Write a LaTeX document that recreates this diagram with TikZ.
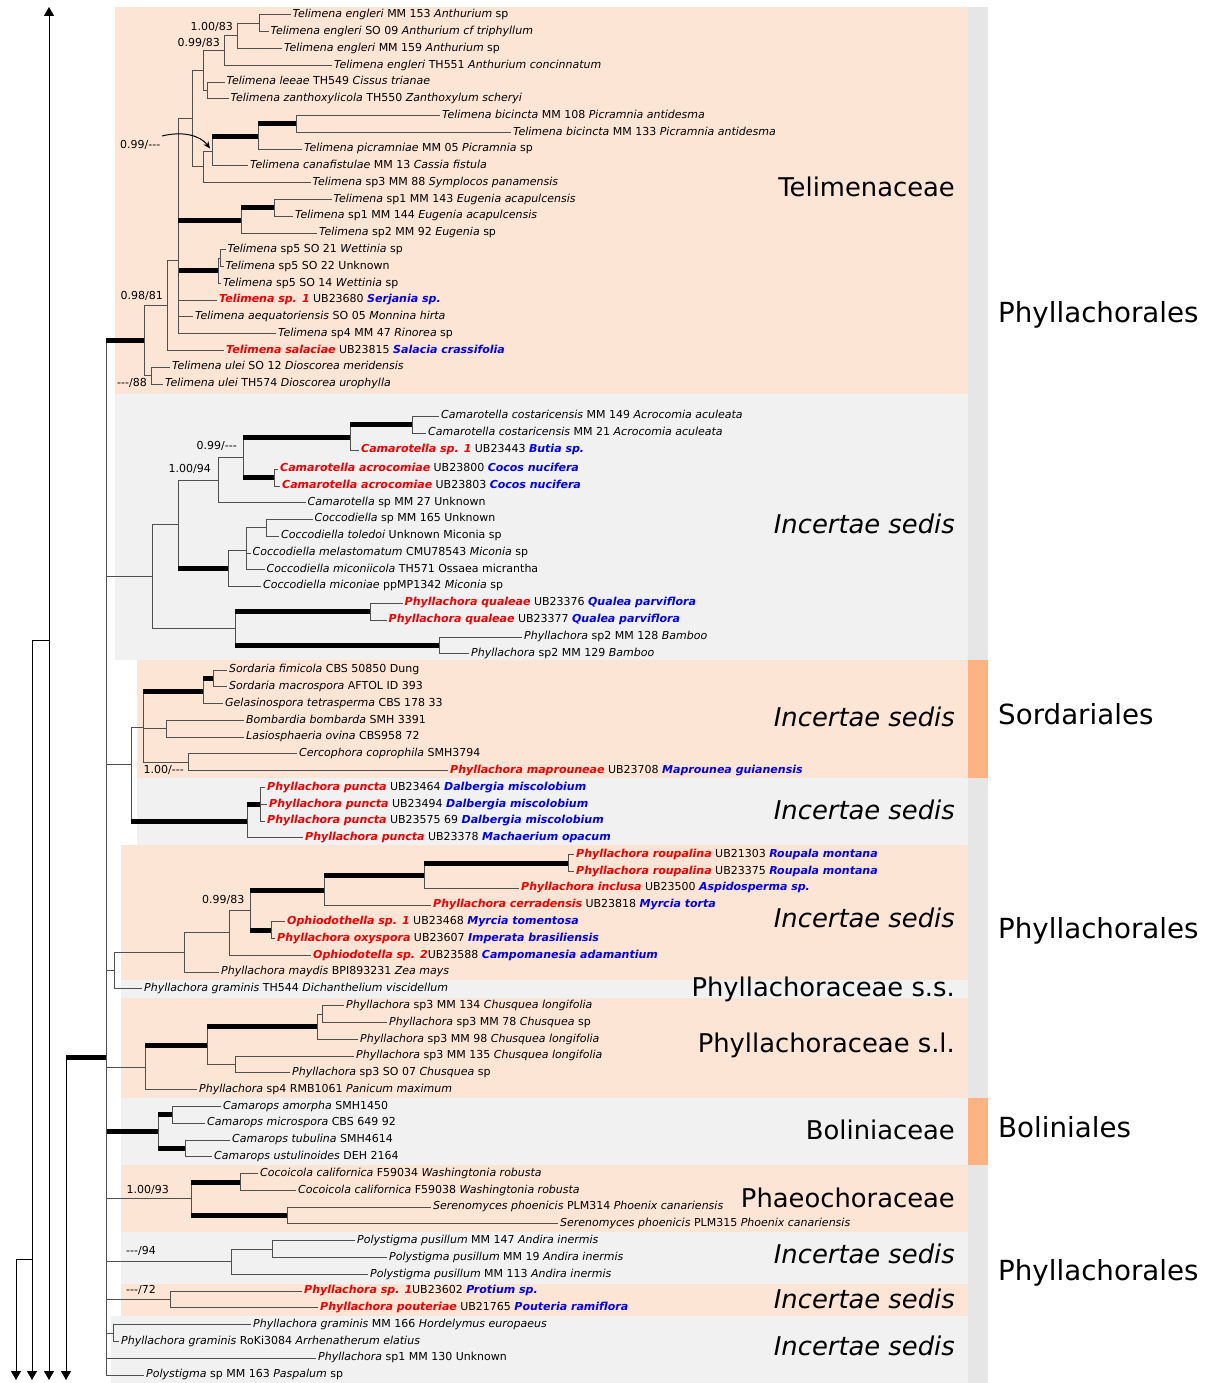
\documentclass[tikz,border=0pt]{standalone}
\usepackage{fontspec}
\setmainfont{DejaVu Sans}
\usetikzlibrary{arrows.meta}
\definecolor{salm}{HTML}{FDE5D5}
\definecolor{grbox}{HTML}{F1F1F1}
\definecolor{stripc}{HTML}{E6E6E6}
\definecolor{orng}{HTML}{FFB380}
\definecolor{nred}{HTML}{F00000}
\definecolor{nblue}{HTML}{0000F0}
\definecolor{brc}{HTML}{505050}
\newcommand{\redsp}[1]{\textcolor{nred}{\bfseries\itshape #1}}
\newcommand{\bluhost}[1]{\textcolor{nblue}{\bfseries\itshape #1}}
\newcommand{\brr}[2]{\draw[br] (#1) |- (#2);}
\newcommand{\tbr}[2]{\draw[br] (#1) |- (#2); \draw[tk] (#1 |- #2) -- (#2);}
\begin{document}
\begin{tikzpicture}[x=1pt,y=-1pt,
  br/.style={draw=brc,line width=1pt},
  tk/.style={draw=black,line width=5pt},
  leaf/.style={anchor=west,inner xsep=2pt,inner ysep=0pt,font=\fontsize{11}{13}\selectfont,text height=8pt,text depth=2.5pt},
  sup/.style={inner sep=0pt,font=\fontsize{11}{13}\selectfont,text height=8pt,text depth=2.5pt},
  fam/.style={anchor=east,inner sep=0pt,font=\fontsize{25.8}{30}\selectfont,text height=18.8pt,text depth=0pt},
  ord/.style={anchor=west,inner sep=0pt,font=\fontsize{27.7}{32}\selectfont,text height=20.2pt,text depth=0pt},
  og/.style={draw=black,line width=1pt,-{Triangle[width=10pt,length=9pt]}},
  ogl/.style={draw=black,line width=1pt}]
\useasboundingbox (0,0) rectangle (1213,1383);
\fill[white] (0,0) rectangle (1213,1383);
% backgrounds
\fill[salm] (115,7) rectangle (968,394);
\fill[grbox] (115,394) rectangle (968,660);
\fill[salm] (137,660) rectangle (968,778);
\fill[grbox] (137,778) rectangle (968,845);
\fill[salm] (121,845) rectangle (968,980);
\fill[grbox] (121,980) rectangle (968,998);
\fill[salm] (121,998) rectangle (968,1098);
\fill[grbox] (121,1098) rectangle (968,1165);
\fill[salm] (121,1165) rectangle (968,1232);
\fill[grbox] (121,1232) rectangle (968,1284);
\fill[salm] (121,1284) rectangle (968,1316);
\fill[grbox] (111,1316) rectangle (968,1383);
\fill[stripc] (968,7) rectangle (988,1383);
\fill[orng] (968,660) rectangle (988,778);
\fill[orng] (968,1098) rectangle (988,1165);

% ---------- leaves ----------
\node[leaf] (l1) at (290.5,15) {\textit{Telimena engleri} MM 153 \textit{Anthurium} sp};
\node[leaf] (l2) at (268.5,31.8) {\textit{Telimena engleri} SO 09 \textit{Anthurium cf triphyllum}};
\node[leaf] (l3) at (282,48.5) {\textit{Telimena engleri} MM 159 \textit{Anthurium} sp};
\node[leaf] (l4) at (332,65.3) {\textit{Telimena engleri} TH551 \textit{Anthurium concinnatum}};
\node[leaf] (l5) at (224.5,82.1) {\textit{Telimena leeae} TH549 \textit{Cissus trianae}};
\node[leaf] (l6) at (228.5,98.9) {\textit{Telimena zanthoxylicola} TH550 \textit{Zanthoxylum scheryi}};
\node[leaf] (l7) at (440,115.6) {\textit{Telimena bicincta} MM 108 \textit{Picramnia antidesma}};
\node[leaf] (l8) at (511,132.4) {\textit{Telimena bicincta} MM 133 \textit{Picramnia antidesma}};
\node[leaf] (l9) at (302,149.2) {\textit{Telimena picramniae} MM 05 \textit{Picramnia} sp};
\node[leaf] (l10) at (248,165.9) {\textit{Telimena canafistulae} MM 13 \textit{Cassia fistula}};
\node[leaf] (l11) at (310.5,182.7) {\textit{Telimena} sp3 MM 88 \textit{Symplocos panamensis}};
\node[leaf] (l12) at (331.5,199.5) {\textit{Telimena} sp1 MM 143 \textit{Eugenia acapulcensis}};
\node[leaf] (l13) at (293,216.2) {\textit{Telimena} sp1 MM 144 \textit{Eugenia acapulcensis}};
\node[leaf] (l14) at (317,233) {\textit{Telimena} sp2 MM 92 \textit{Eugenia} sp};
\node[leaf] (l15) at (225.5,249.8) {\textit{Telimena} sp5 SO 21 \textit{Wettinia} sp};
\node[leaf] (l16) at (223.5,266.6) {\textit{Telimena} sp5 SO 22 Unknown};
\node[leaf] (l17) at (221,283.3) {\textit{Telimena} sp5 SO 14 \textit{Wettinia} sp};
\node[leaf] (l18) at (217,300.1) {\redsp{Telimena sp. 1} UB23680 \bluhost{Serjania sp.}};
\node[leaf] (l19) at (193,316.9) {\textit{Telimena aequatoriensis} SO 05 \textit{Monnina hirta}};
\node[leaf] (l20) at (276,333.7) {\textit{Telimena} sp4 MM 47 \textit{Rinorea} sp};
\node[leaf] (l21) at (224,350.4) {\redsp{Telimena salaciae} UB23815 \bluhost{Salacia crassifolia}};
\node[leaf] (l22) at (170,367.2) {\textit{Telimena ulei} SO 12 \textit{Dioscorea meridensis}};
\node[leaf] (l23) at (163,384) {\textit{Telimena ulei} TH574 \textit{Dioscorea urophylla}};
\node[leaf] (l24) at (439,416) {\textit{Camarotella costaricensis} MM 149 \textit{Acrocomia aculeata}};
\node[leaf] (l25) at (426,433) {\textit{Camarotella costaricensis} MM 21 \textit{Acrocomia aculeata}};
\node[leaf] (l26) at (359,450) {\redsp{Camarotella sp. 1} UB23443 \bluhost{Butia sp.}};
\node[leaf] (l27) at (278,469) {\redsp{Camarotella acrocomiae} UB23800 \bluhost{Cocos nucifera}};
\node[leaf] (l28) at (280,486) {\redsp{Camarotella acrocomiae} UB23803 \bluhost{Cocos nucifera}};
\node[leaf] (l29) at (305.5,502.5) {\textit{Camarotella} sp MM 27 Unknown};
\node[leaf] (l30) at (312.5,519) {\textit{Coccodiella} sp MM 165 Unknown};
\node[leaf] (l31) at (279,536) {\textit{Coccodiella toledoi} Unknown Miconia sp};
\node[leaf] (l32) at (250.5,553) {\textit{Coccodiella melastomatum} CMU78543 \textit{Miconia} sp};
\node[leaf] (l33) at (264.5,569.5) {\textit{Coccodiella miconiicola} TH571 Ossaea micrantha};
\node[leaf] (l34) at (261,586) {\textit{Coccodiella miconiae} ppMP1342 \textit{Miconia} sp};
\node[leaf] (l35) at (402.5,603) {\redsp{Phyllachora qualeae} UB23376 \bluhost{Qualea parviflora}};
\node[leaf] (l36) at (386.5,620) {\redsp{Phyllachora qualeae} UB23377 \bluhost{Qualea parviflora}};
\node[leaf] (l37) at (522,637) {\textit{Phyllachora} sp2 MM 128 \textit{Bamboo}};
\node[leaf] (l38) at (469,653.5) {\textit{Phyllachora} sp2 MM 129 \textit{Bamboo}};
\node[leaf] (l39) at (227,670) {\textit{Sordaria fimicola} CBS 50850 Dung};
\node[leaf] (l40) at (227,686.8) {\textit{Sordaria macrospora} AFTOL ID 393};
\node[leaf] (l41) at (223,703.6) {\textit{Gelasinospora tetrasperma} CBS 178 33};
\node[leaf] (l42) at (244,720.4) {\textit{Bombardia bombarda} SMH 3391};
\node[leaf] (l43) at (244,737.1) {\textit{Lasiosphaeria ovina} CBS958 72};
\node[leaf] (l44) at (297,753.9) {\textit{Cercophora coprophila} SMH3794};
\node[leaf] (l45) at (448,770.7) {\redsp{Phyllachora maprouneae} UB23708 \bluhost{Maprounea guianensis}};
\node[leaf] (l46) at (265,787.5) {\redsp{Phyllachora puncta} UB23464 \bluhost{Dalbergia miscolobium}};
\node[leaf] (l47) at (267,804.3) {\redsp{Phyllachora puncta} UB23494 \bluhost{Dalbergia miscolobium}};
\node[leaf] (l48) at (265,821.1) {\redsp{Phyllachora puncta} UB23575 69 \bluhost{Dalbergia miscolobium}};
\node[leaf] (l49) at (303,837.9) {\redsp{Phyllachora puncta} UB23378 \bluhost{Machaerium opacum}};
\node[leaf] (l50) at (574,854.6) {\redsp{Phyllachora roupalina} UB21303 \bluhost{Roupala montana}};
\node[leaf] (l51) at (574,871.4) {\redsp{Phyllachora roupalina} UB23375 \bluhost{Roupala montana}};
\node[leaf] (l52) at (519,888.2) {\redsp{Phyllachora inclusa} UB23500 \bluhost{Aspidosperma sp.}};
\node[leaf] (l53) at (431,905) {\redsp{Phyllachora cerradensis} UB23818 \bluhost{Myrcia torta}};
\node[leaf] (l54) at (285,921.8) {\redsp{Ophiodothella sp. 1} UB23468 \bluhost{Myrcia tomentosa}};
\node[leaf] (l55) at (275,938.6) {\redsp{Phyllachora oxyspora} UB23607 \bluhost{Imperata brasiliensis}};
\node[leaf] (l56) at (311,955.4) {\redsp{Ophiodotella sp. 2}UB23588 \bluhost{Campomanesia adamantium}};
\node[leaf] (l57) at (219,972.1) {\textit{Phyllachora maydis} BPI893231 \textit{Zea mays}};
\node[leaf] (l58) at (142,988.9) {\textit{Phyllachora graminis} TH544 \textit{Dichanthelium viscidellum}};
\node[leaf] (l59) at (344,1005.7) {\textit{Phyllachora} sp3 MM 134 \textit{Chusquea longifolia}};
\node[leaf] (l60) at (387,1022.5) {\textit{Phyllachora} sp3 MM 78 \textit{Chusquea} sp};
\node[leaf] (l61) at (358,1039.3) {\textit{Phyllachora} sp3 MM 98 \textit{Chusquea longifolia}};
\node[leaf] (l62) at (354,1056.1) {\textit{Phyllachora} sp3 MM 135 \textit{Chusquea longifolia}};
\node[leaf] (l63) at (290,1072.9) {\textit{Phyllachora} sp3 SO 07 \textit{Chusquea} sp};
\node[leaf] (l64) at (197,1089.6) {\textit{Phyllachora} sp4 RMB1061 \textit{Panicum maximum}};
\node[leaf] (l65) at (221,1106.4) {\textit{Camarops amorpha} SMH1450};
\node[leaf] (l66) at (205,1123.2) {\textit{Camarops microspora} CBS 649 92};
\node[leaf] (l67) at (230,1140) {\textit{Camarops tubulina} SMH4614};
\node[leaf] (l68) at (212,1156.8) {\textit{Camarops ustulinoides} DEH 2164};
\node[leaf] (l69) at (258,1173.6) {\textit{Cocoicola californica} F59034 \textit{Washingtonia robusta}};
\node[leaf] (l70) at (296,1190.4) {\textit{Cocoicola californica} F59038 \textit{Washingtonia robusta}};
\node[leaf] (l71) at (431,1207.2) {\textit{Serenomyces phoenicis} PLM314 \textit{Phoenix canariensis}};
\node[leaf] (l72) at (558,1223.9) {\textit{Serenomyces phoenicis} PLM315 \textit{Phoenix canariensis}};
\node[leaf] (l73) at (355,1240.7) {\textit{Polystigma pusillum} MM 147 \textit{Andira inermis}};
\node[leaf] (l74) at (387,1257.5) {\textit{Polystigma pusillum} MM 19 \textit{Andira inermis}};
\node[leaf] (l75) at (368,1274.3) {\textit{Polystigma pusillum} MM 113 \textit{Andira inermis}};
\node[leaf] (l76) at (302,1291.1) {\redsp{Phyllachora sp. 1}UB23602 \bluhost{Protium sp.}};
\node[leaf] (l77) at (318,1307.9) {\redsp{Phyllachora pouteriae} UB21765 \bluhost{Pouteria ramiflora}};
\node[leaf] (l78) at (251,1324.7) {\textit{Phyllachora graminis} MM 166 \textit{Hordelymus europaeus}};
\node[leaf] (l79) at (119,1341.4) {\textit{Phyllachora graminis} RoKi3084 \textit{Arrhenatherum elatius}};
\node[leaf] (l80) at (316,1358.2) {\textit{Phyllachora} sp1 MM 130 Unknown};
\node[leaf] (l81) at (144,1375) {\textit{Polystigma} sp MM 163 \textit{Paspalum} sp};

% ---------- internal nodes ----------
\coordinate (A) at (259,23.4);
\coordinate (B) at (237,36);
\coordinate (C) at (224,50.6);
\coordinate (D) at (207,90.5);
\coordinate (E) at (203,70.6);
\coordinate (M) at (296,124);
\coordinate (N) at (258,136.6);
\coordinate (G) at (212,151.3);
\coordinate (H) at (203,167);
\coordinate (F) at (192,118.8);
\coordinate (J) at (274,207.9);
\coordinate (I) at (241,220.4);
\coordinate (K2) at (220,258.2);
\coordinate (K) at (218,270.8);
\coordinate (L) at (178,260.1);
\coordinate (P) at (167,305.3);
\coordinate (R) at (151,375.6);
\coordinate (Q) at (144,340.5);
\coordinate (AA) at (412,424.5);
\coordinate (Y) at (350,437.3);
\coordinate (Z) at (274,477.5);
\coordinate (X) at (243,457.4);
\coordinate (V) at (218,480);
\coordinate (W3) at (266,527.5);
\coordinate (W2) at (246,550);
\coordinate (W) at (228,568);
\coordinate (T) at (178,524);
\coordinate (QU) at (370,611.5);
\coordinate (BM) at (439,645.3);
\coordinate (U) at (235,628.4);
\coordinate (S) at (152,576.2);
\coordinate (SF) at (213,678.4);
\coordinate (SG) at (203,691);
\coordinate (SB) at (166,728.8);
\coordinate (SC) at (188,762.3);
\coordinate (SA) at (143,727.4);
\coordinate (PU2) at (260,804.3);
\coordinate (PU) at (247,821.1);
\coordinate (SS) at (131,764);
\coordinate (RP) at (568,863);
\coordinate (R1) at (424,875.6);
\coordinate (R2) at (324,890.3);
\coordinate (OP) at (271,930.2);
\coordinate (R3) at (250,910.3);
\coordinate (R4) at (229,932.8);
\coordinate (R5) at (184,952.5);
\coordinate (R6) at (114,970.7);
\coordinate (slb) at (322,1014.1);
\coordinate (sla) at (317,1026.7);
\coordinate (sld) at (235,1064.5);
\coordinate (slc) at (207,1045.6);
\coordinate (sle) at (145,1067.6);
\coordinate (bof) at (172,1114.8);
\coordinate (bog) at (185,1148.4);
\coordinate (boh) at (158,1131.6);
\coordinate (phi) at (240,1182);
\coordinate (phj) at (287,1215.6);
\coordinate (phk) at (191,1198.8);
\coordinate (pol) at (272,1249.1);
\coordinate (pom) at (231,1261.7);
\coordinate (pon) at (170,1299.5);
\coordinate (poo) at (113,1333);
\coordinate (BB0) at (106,1057);

% ---------- branches: Telimenaceae ----------
\brr{A}{l1.west} \brr{A}{l2.west}
\brr{B}{A} \brr{B}{l3.west}
\brr{C}{B} \brr{C}{l4.west}
\brr{D}{l5.west} \brr{D}{l6.west}
\brr{E}{C} \brr{E}{D}
\brr{M}{l7.west} \brr{M}{l8.west}
\tbr{N}{M} \brr{N}{l9.west}
\tbr{G}{N} \brr{G}{l10.west}
\brr{H}{G} \brr{H}{l11.west}
\brr{F}{E} \brr{F}{H}
\brr{J}{l12.west} \brr{J}{l13.west}
\tbr{I}{J} \brr{I}{l14.west}
\brr{K2}{l15.west} \brr{K2}{l16.west}
\brr{K}{K2} \brr{K}{l17.west}
\brr{L}{F} \tbr{L}{I} \tbr{L}{K}
\brr{L}{l18.west} \brr{L}{l19.west} \brr{L}{l20.west}
\brr{P}{L} \brr{P}{l21.west}
\brr{R}{l22.west} \brr{R}{l23.west}
\brr{Q}{P} \brr{Q}{R}
\tbr{BB0}{Q}
% ---------- Incertae sedis (Camarotella etc.) ----------
\brr{AA}{l24.west} \brr{AA}{l25.west}
\tbr{Y}{AA} \brr{Y}{l26.west}
\brr{Z}{l27.west} \brr{Z}{l28.west}
\tbr{X}{Y} \tbr{X}{Z}
\brr{V}{X} \brr{V}{l29.west}
\brr{W3}{l30.west} \brr{W3}{l31.west}
\brr{W2}{W3} \brr{W2}{l32.west} \brr{W2}{l33.west}
\brr{W}{W2} \brr{W}{l34.west}
\brr{T}{V} \tbr{T}{W}
\brr{QU}{l35.west} \brr{QU}{l36.west}
\brr{BM}{l37.west} \brr{BM}{l38.west}
\tbr{U}{QU} \tbr{U}{BM}
\brr{S}{T} \brr{S}{U}
\brr{BB0}{S}
% ---------- Sordariales + puncta ----------
\brr{SF}{l39.west} \brr{SF}{l40.west}
\tbr{SG}{SF} \brr{SG}{l41.west}
\brr{SB}{l42.west} \brr{SB}{l43.west}
\brr{SC}{l44.west} \brr{SC}{l45.west}
\tbr{SA}{SG} \brr{SA}{SB} \brr{SA}{SC}
\brr{PU2}{l46.west} \brr{PU2}{l47.west} \brr{PU2}{l48.west}
\tbr{PU}{PU2} \brr{PU}{l49.west}
\brr{SS}{SA} \tbr{SS}{PU}
\brr{BB0}{SS}
% ---------- Phyllachoraceae s.s. ----------
\brr{RP}{l50.west} \brr{RP}{l51.west}
\tbr{R1}{RP} \brr{R1}{l52.west}
\tbr{R2}{R1} \brr{R2}{l53.west}
\brr{OP}{l54.west} \brr{OP}{l55.west}
\tbr{R3}{R2} \tbr{R3}{OP}
\brr{R4}{R3} \brr{R4}{l56.west}
\brr{R5}{R4} \brr{R5}{l57.west}
\brr{R6}{R5} \brr{R6}{l58.west}
\brr{BB0}{R6}
% ---------- Phyllachoraceae s.l. ----------
\brr{slb}{l59.west} \brr{slb}{l60.west}
\brr{sla}{slb} \brr{sla}{l61.west}
\brr{sld}{l62.west} \brr{sld}{l63.west}
\tbr{slc}{sla} \brr{slc}{sld}
\tbr{sle}{slc} \brr{sle}{l64.west}
\brr{BB0}{sle}
% ---------- Boliniaceae ----------
\brr{bof}{l65.west} \brr{bof}{l66.west}
\brr{bog}{l67.west} \brr{bog}{l68.west}
\tbr{boh}{bof} \tbr{boh}{bog}
\tbr{BB0}{boh}
% ---------- Phaeochoraceae ----------
\brr{phi}{l69.west} \brr{phi}{l70.west}
\brr{phj}{l71.west} \brr{phj}{l72.west}
\tbr{phk}{phi} \tbr{phk}{phj}
\brr{BB0}{phk}
% ---------- remaining ----------
\brr{pol}{l73.west} \brr{pol}{l74.west}
\brr{pom}{pol} \brr{pom}{l75.west}
\brr{BB0}{pom}
\brr{pon}{l76.west} \brr{pon}{l77.west}
\brr{BB0}{pon}
\brr{poo}{l78.west} \brr{poo}{l79.west}
\brr{BB0}{poo}
\brr{BB0}{l80.west} \brr{BB0}{l81.west}

% ---------- outgroup arrows ----------
\coordinate (R49) at (49,640);
\coordinate (T49) at (49,7);
\coordinate (B49) at (49,1380);
\coordinate (R32) at (32,640);
\coordinate (J32) at (32,1259);
\coordinate (B32) at (32,1380);
\coordinate (R16) at (16,1259);
\coordinate (B16) at (16,1380);
\coordinate (R66) at (66,1057);
\coordinate (B66) at (66,1380);
\draw[og] (R49) -- (T49);
\draw[og] (R49) -- (B49);
\draw[ogl] (R32) -- (R49);
\draw[og] (R32) -- (B32);
\draw[ogl] (R16) -- (J32);
\draw[og] (R16) -- (B16);
\draw[og] (R66) -- (B66);
\draw[tk] (R66) -- (BB0);

% ---------- support values ----------
\node[sup,anchor=east] (s1) at (233,27.7) {1.00/83};
\node[sup,anchor=east] (s2) at (220,43.3) {0.99/83};
\node[sup,anchor=east] (s3) at (160.5,145.7) {0.99/-{}-{}-};
\node[sup,anchor=east] (s4) at (163,297) {0.98/81};
\node[sup,anchor=east] (s5) at (147,384) {-{}-{}-/88};
\node[sup,anchor=east] (s6) at (237,447) {0.99/-{}-{}-};
\node[sup,anchor=east] (s7) at (211,469.3) {1.00/94};
\node[sup,anchor=west] (s8) at (143.5,770.7) {1.00/-{}-{}-};
\node[sup,anchor=east] (s9) at (244.5,901) {0.99/83};
\node[sup,anchor=west] (s10) at (126.5,1191) {1.00/93};
\node[sup,anchor=west] (s11) at (126,1251.7) {-{}-{}-/94};
\node[sup,anchor=west] (s12) at (126,1291) {-{}-{}-/72};
\coordinate (arrst) at (162,136);
\coordinate (arrtip) at (210,148.5);
\draw[black,line width=1pt,-{Stealth[length=7pt,width=6pt]}] (arrst) .. controls (182,131) and (200,135) .. (arrtip);

% ---------- clade labels ----------
\node[fam] (f1) at (955,187.5) {Telimenaceae};
\node[fam] (f2) at (955,523.7) {\itshape Incertae sedis};
\node[fam] (f3) at (955,717.3) {\itshape Incertae sedis};
\node[fam] (f4) at (955,810.3) {\itshape Incertae sedis};
\node[fam] (f5) at (955,918) {\itshape Incertae sedis};
\node[fam] (f6) at (955,987.4) {Phyllachoraceae s.s.};
\node[fam] (f7) at (955,1043) {Phyllachoraceae s.l.};
\node[fam] (f8) at (955,1130) {Boliniaceae};
\node[fam] (f9) at (955,1197.7) {Phaeochoraceae};
\node[fam] (f10) at (955,1253.7) {\itshape Incertae sedis};
\node[fam] (f11) at (955,1298.6) {\itshape Incertae sedis};
\node[fam] (f12) at (955,1346.3) {\itshape Incertae sedis};
\node[ord] (o1) at (998,312) {Phyllachorales};
\node[ord] (o2) at (998,714.7) {Sordariales};
\node[ord] (o3) at (998,928.5) {Phyllachorales};
\node[ord] (o4) at (998,1127.6) {Boliniales};
\node[ord] (o5) at (998,1270.6) {Phyllachorales};
\end{tikzpicture}
\end{document}
